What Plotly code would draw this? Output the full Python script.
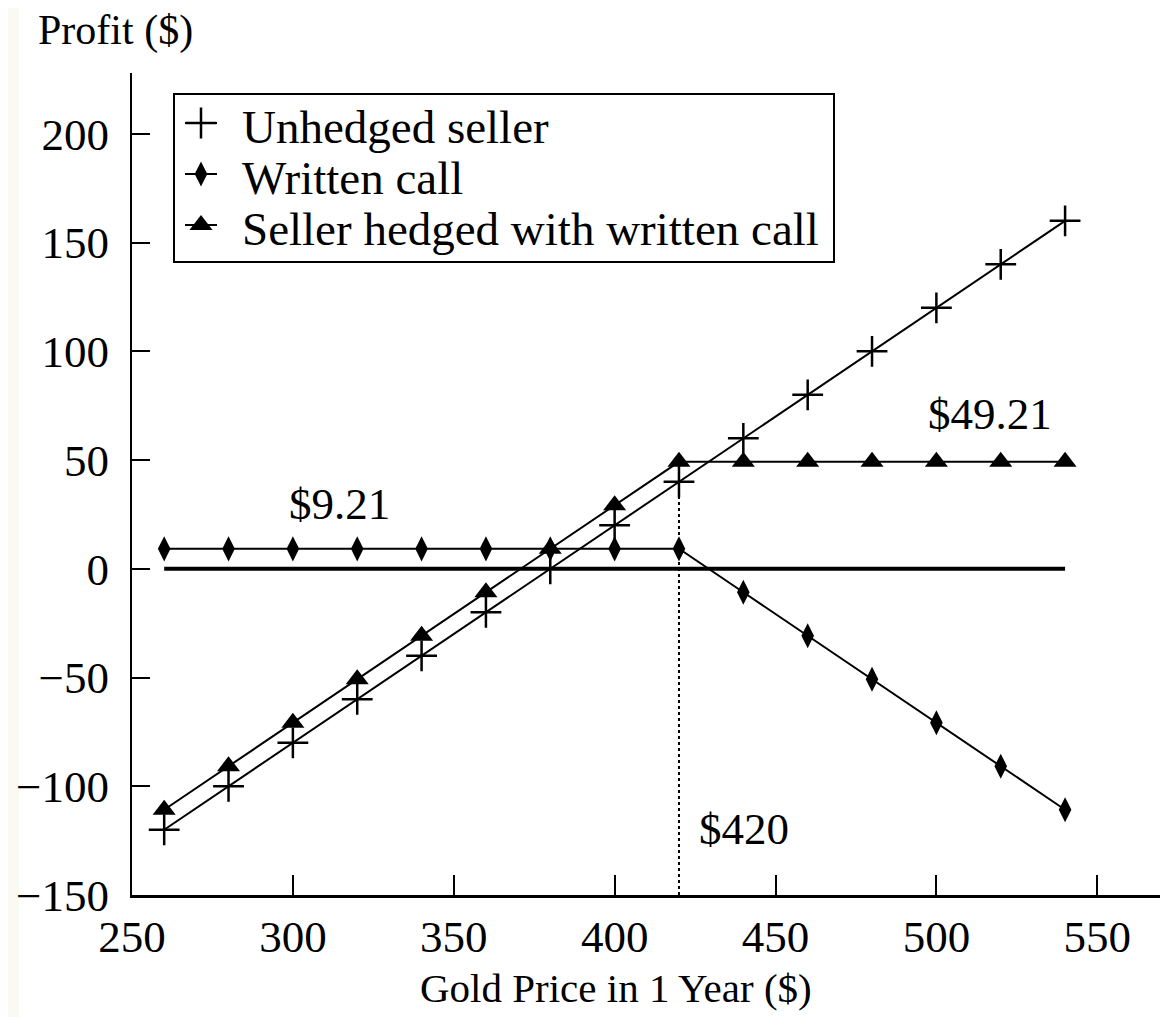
import plotly.graph_objects as go

gold_price = [260, 280, 300, 320, 340, 360, 380, 400, 420, 440, 460, 480, 500, 520, 540]
unhedged = [-120, -100, -80, -60, -40, -20, 0, 20, 40, 60, 80, 100, 120, 140, 160]
written_call = [9.21, 9.21, 9.21, 9.21, 9.21, 9.21, 9.21, 9.21, 9.21,
                -10.79, -30.79, -50.79, -70.79, -90.79, -110.79]
hedged = [-110.79, -90.79, -70.79, -50.79, -30.79, -10.79, 9.21, 29.21, 49.21,
          49.21, 49.21, 49.21, 49.21, 49.21, 49.21]
zero_x = [260, 540]
zero_y = [0, 0]
strike_x = [420, 420]
strike_y = [-150, 49.21]
series_names = ["Unhedged seller", "Written call", "Seller hedged with written call"]
labels = ["$9.21", "$49.21", "$420"]
label_x = [314.6, 516.7, 440.3]
label_y = [29.7, 71.1, -119.6]
x_ticks = [250, 300, 350, 400, 450, 500, 550]
y_ticks = [-150, -100, -50, 0, 50, 100, 150, 200]

FONT = "Liberation Serif"
FS = 45
LFS = 47

# page offset of 8px (browser body margin) -> figure is 1160x1009
W, H = 1160, 1009
PL, PR, PT, PB = 132, 1160, 73, 895   # plot area in page pixels
PW, PH = PR - PL, PB - PT


def px(xp):
    return (xp - PL) / PW


def py(yp):
    return (PB - yp) / PH


styles = [
    dict(symbol="cross-thin", size=22, color="black", line=dict(color="black", width=2.5)),
    dict(symbol="diamond-tall", size=18, color="black"),
    dict(symbol="triangle-up", size=20, color="black"),
]
series_y = [unhedged, written_call, hedged]

fig = go.Figure()
fig.add_trace(go.Scatter(x=zero_x, y=zero_y, mode="lines", line=dict(color="black", width=4),
                         showlegend=False, hoverinfo="skip"))
fig.add_trace(go.Scatter(x=strike_x, y=strike_y, mode="lines",
                         line=dict(color="black", width=2, dash="dot"),
                         showlegend=False, hoverinfo="skip"))
for name, ys, st in zip(series_names, series_y, styles):
    fig.add_trace(go.Scatter(x=gold_price, y=ys, mode="lines+markers", name=name,
                             line=dict(color="black", width=2), marker=st, showlegend=False))

# background panels
fig.add_shape(type="rect", xref="paper", yref="paper", layer="below",
              x0=px(19), x1=px(1160), y0=py(1030), y1=py(4),
              fillcolor="white", line=dict(width=0))
fig.add_shape(type="rect", xref="paper", yref="paper", layer="below",
              x0=px(1160), x1=px(1175), y0=py(1030), y1=py(-10),
              fillcolor="#E1EAC9", line=dict(width=0))

# ---- legend (drawn as a key box) ----
LEG_BOX = (174, 94, 834, 262)
row_sym_y = [123, 174, 225]
sym_x0, sym_xc, sym_x1 = 185, 201, 217
text_x = 240
fig.add_shape(type="rect", xref="paper", yref="paper",
              x0=px(LEG_BOX[0]), x1=px(LEG_BOX[2]), y0=py(LEG_BOX[3]), y1=py(LEG_BOX[1]),
              fillcolor="white", line=dict(color="black", width=2), layer="below")
for name, st, ry in zip(series_names, styles, row_sym_y):
    fig.add_trace(go.Scatter(x=[px(sym_x0), px(sym_x1)], y=[py(ry), py(ry)], xaxis="x2", yaxis="y2",
                             mode="lines", line=dict(color="black", width=2),
                             showlegend=False, hoverinfo="skip"))
    fig.add_trace(go.Scatter(x=[px(sym_xc)], y=[py(ry)], xaxis="x2", yaxis="y2",
                             mode="markers", marker=st, showlegend=False, hoverinfo="skip"))
    fig.add_annotation(xref="paper", yref="paper", x=px(text_x), y=py(ry + 4), text=name,
                       showarrow=False, xanchor="left", yanchor="middle",
                       font=dict(family=FONT, size=LFS, color="black"))

for t, xx, yy in zip(labels, label_x, label_y):
    fig.add_annotation(x=xx, y=yy, text=t, showarrow=False, xanchor="center", yanchor="middle",
                       font=dict(family=FONT, size=FS, color="black"))

# axis titles
fig.add_annotation(xref="paper", yref="paper", x=px(36), y=py(31),
                   text="Profit ($)", showarrow=False, xanchor="left", yanchor="middle",
                   font=dict(family=FONT, size=42, color="black"))
fig.add_annotation(xref="paper", yref="paper", x=px(616), y=py(988),
                   text="Gold Price in 1 Year ($)", showarrow=False, xanchor="center", yanchor="middle",
                   font=dict(family=FONT, size=41, color="black"))

fig.update_layout(
    width=W, height=H,
    margin=dict(l=PL - 8, r=(W + 8) - PR, t=PT - 8, b=(H + 8) - PB, autoexpand=False),
    paper_bgcolor="#FAFAF3",
    plot_bgcolor="white",
    font=dict(family=FONT, size=FS, color="black"),
    showlegend=False,
    xaxis=dict(range=[250, 569.5], tickvals=x_ticks,
               showgrid=False, zeroline=False, showline=True, linecolor="black", linewidth=3,
               ticks="inside", ticklen=20, tickwidth=2, tickcolor="black",
               tickfont=dict(family=FONT, size=FS, color="black")),
    yaxis=dict(range=[-150, 228], tickvals=y_ticks,
               showgrid=False, zeroline=False, showline=True, linecolor="black", linewidth=2,
               ticks="inside", ticklen=18, tickwidth=2, tickcolor="black", ticklabelstandoff=12,
               tickfont=dict(family=FONT, size=FS, color="black")),
    xaxis2=dict(overlaying="x", range=[0, 1], visible=False, fixedrange=True),
    yaxis2=dict(overlaying="y", range=[0, 1], visible=False, fixedrange=True),
)

fig.write_html("out.html")
